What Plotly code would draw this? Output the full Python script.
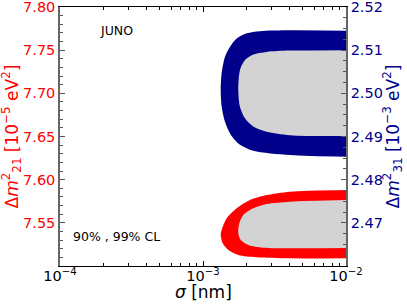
import plotly.graph_objects as go

# 99% CL (outer) and 90% CL (inner) contour boundaries, Δm²31 region (right axis)
blue_outer_sigma = [1e-2, 4.058e-3, 2.504e-3, 2.021e-3, 1.720e-3, 1.545e-3, 1.425e-3, 1.351e-3,
                    1.330e-3, 1.351e-3, 1.425e-3, 1.545e-3, 1.765e-3, 2.247e-3, 4.058e-3, 1e-2]
blue_outer_dm31 = [2.5145, 2.5146, 2.5144, 2.5139, 2.5127, 2.5108, 2.5085, 2.5047,
                   2.5008, 2.4969, 2.4934, 2.4907, 2.4884, 2.4867, 2.4857, 2.4853]
blue_inner_sigma = [1e-2, 4.058e-3, 2.790e-3, 2.247e-3, 1.966e-3, 1.814e-3, 1.765e-3,
                    1.814e-3, 1.966e-3, 2.247e-3, 2.790e-3, 4.058e-3, 1e-2]
blue_inner_dm31 = [2.5100, 2.5099, 2.5096, 2.5090, 2.5077, 2.5054, 2.5008,
                   2.4969, 2.4942, 2.4923, 2.4911, 2.4903, 2.4901]

# Δm²21 region (left axis)
red_outer_sigma = [1e-2, 4.058e-3, 2.790e-3, 2.132e-3, 1.720e-3, 1.465e-3, 1.351e-3,
                   1.330e-3, 1.373e-3, 1.503e-3, 1.765e-3, 2.374e-3, 4.058e-3, 1e-2]
red_outer_dm21 = [7.5880, 7.5861, 7.5822, 7.5764, 7.5668, 7.5552, 7.5417,
                  7.5359, 7.5263, 7.5185, 7.5127, 7.5101, 7.5089, 7.5090]
red_inner_sigma = [1e-2, 4.058e-3, 2.790e-3, 2.247e-3, 1.913e-3, 1.794e-3, 1.765e-3,
                   1.835e-3, 2.074e-3, 2.641e-3, 4.058e-3, 1e-2]
red_inner_dm21 = [7.5764, 7.5745, 7.5718, 7.5668, 7.5591, 7.5495, 7.5379,
                  7.5301, 7.5243, 7.5212, 7.5205, 7.5208]

x_ticks = [1e-4, 1e-3, 1e-2]
x_ticktext = ["10<sup>−4</sup>", "10<sup>−3</sup>", "10<sup>−2</sup>"]
x_minor = [m * d for d in (1e-4, 1e-3) for m in range(2, 10)]
left_ticks = [7.55, 7.60, 7.65, 7.70, 7.75, 7.80]
right_ticks = [2.47, 2.48, 2.49, 2.50, 2.51, 2.52]

RED = "#ff0000"
NAVY = "#00008b"
GRAY = "#d3d3d3"
FONT = "DejaVu Sans"

fig = go.Figure()

def region(xs, ys, color, yaxis):
    fig.add_trace(go.Scatter(x=xs, y=ys, mode="lines", fill="toself", fillcolor=color,
                             line=dict(width=0, color=color, shape="spline", smoothing=0.8),
                             yaxis=yaxis, showlegend=False, hoverinfo="skip"))

region(red_outer_sigma, red_outer_dm21, RED, "y")
region(red_inner_sigma, red_inner_dm21, GRAY, "y")
region(blue_outer_sigma, blue_outer_dm31, NAVY, "y2")
region(blue_inner_sigma, blue_inner_dm31, GRAY, "y2")

fig.update_layout(
    width=407, height=305,
    margin=dict(l=60, r=61, t=7, b=39, autoexpand=False),
    paper_bgcolor="white", plot_bgcolor="white",
    font=dict(family=FONT, size=13, color="black"),
    xaxis=dict(type="log", range=[-4, -2], tickvals=x_ticks, ticktext=x_ticktext,
               ticks="inside", ticklen=5, tickcolor="black", showgrid=False, zeroline=False,
               showline=True, linecolor="black", linewidth=1, mirror="ticks", automargin=False,
               ticklabeloverflow="allow", ticklabelstandoff=-3,
               tickfont=dict(size=14.5, color="black"),
               minor=dict(tickvals=x_minor, ticks="inside", ticklen=3, tickcolor="black", showgrid=False)),
    yaxis=dict(range=[7.50, 7.80], tickvals=left_ticks, tickformat=".2f", automargin=False,
               ticklabeloverflow="allow",
               ticks="inside", ticklen=5, tickcolor="#555", showgrid=False, zeroline=False,
               showline=True, linecolor="#666", linewidth=1.5,
               tickfont=dict(size=14.5, color=RED),
               minor=dict(dtick=0.01, ticks="inside", ticklen=3, tickcolor="#555", showgrid=False)),
    yaxis2=dict(range=[2.46, 2.52], tickvals=right_ticks, tickformat=".2f", overlaying="y", side="right",
                automargin=False, ticklabeloverflow="allow",
                ticks="inside", ticklen=5, tickcolor="#555", showgrid=False, zeroline=False,
                showline=True, linecolor="#666", linewidth=1.5,
                tickfont=dict(size=14.5, color=NAVY),
                minor=dict(dtick=0.0025, ticks="inside", ticklen=3, tickcolor="#555", showgrid=False)),
    annotations=[
        dict(text="JUNO", x=0.196, y=0.911, xref="paper", yref="paper", showarrow=False,
             font=dict(size=12.5, color="black"), xanchor="center", yanchor="middle"),
        dict(text="90% , 99% CL", x=0.199, y=0.112, xref="paper", yref="paper", showarrow=False,
             font=dict(size=12.5, color="black"), xanchor="center", yanchor="middle"),
        dict(text="<i>σ</i> [nm]", x=0.5, y=-0.1, xref="paper", yref="paper", showarrow=False,
             font=dict(size=17, color="black"), xanchor="center", yanchor="middle"),
        dict(text="Δ<i>m</i><sup>2</sup><sub>21</sub> [10<sup>−5</sup> eV<sup>2</sup>]",
             x=-0.168, y=0.5, xref="paper", yref="paper", showarrow=False, textangle=-90,
             font=dict(size=17, color=RED), xanchor="center", yanchor="middle"),
        dict(text="Δ<i>m</i><sup>2</sup><sub>31</sub> [10<sup>−3</sup> eV<sup>2</sup>]",
             x=1.164, y=0.5, xref="paper", yref="paper", showarrow=False, textangle=-90,
             font=dict(size=17, color=NAVY), xanchor="center", yanchor="middle"),
    ],
)

fig.write_html("out.html", config={"displayModeBar": False},
               post_script="document.body.style.margin='0';document.body.style.overflow='hidden';")
